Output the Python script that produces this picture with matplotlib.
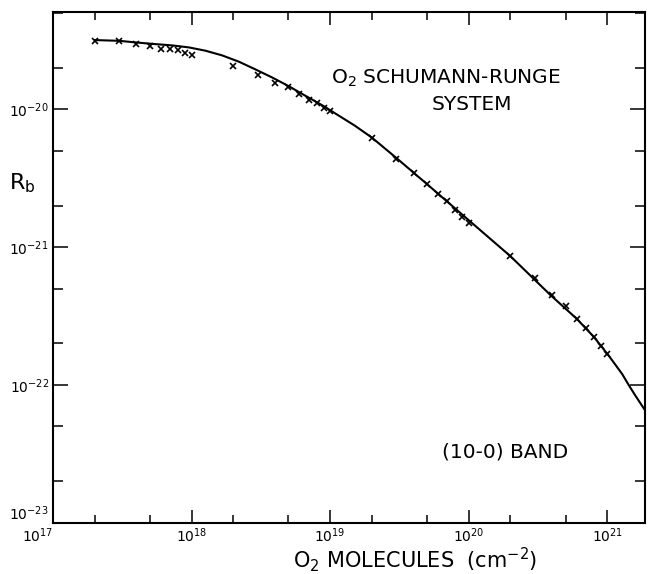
import matplotlib
matplotlib.use("Agg")
import matplotlib.pyplot as plt
from matplotlib.ticker import LogLocator, NullFormatter, FixedFormatter, FixedLocator

plt.rcParams['font.family'] = ['DejaVu Sans']
plt.rcParams['mathtext.default'] = 'regular'

# measured points (O2 column, cm^-2) and R_b
x_points = [2e17, 3e17, 4e17, 5e17, 6e17, 7e17, 8e17, 9e17, 1e18,
            2e18, 3e18, 4e18, 5e18, 6e18, 7e18, 8e18, 9e18, 1e19,
            2e19, 3e19, 4e19, 5e19, 6e19, 7e19, 8e19, 9e19, 1e20,
            2e20, 3e20, 4e20, 5e20, 6e20, 7e20, 8e20, 9e20, 1e21]
y_points = [3.13e-20, 3.15e-20, 2.97e-20, 2.87e-20, 2.77e-20, 2.74e-20, 2.68e-20, 2.59e-20, 2.48e-20,
            2.07e-20, 1.77e-20, 1.56e-20, 1.46e-20, 1.29e-20, 1.18e-20, 1.12e-20, 1.03e-20, 9.8e-21,
            6.25e-21, 4.4e-21, 3.43e-21, 2.87e-21, 2.42e-21, 2.15e-21, 1.86e-21, 1.66e-21, 1.49e-21,
            8.6e-22, 5.98e-22, 4.48e-22, 3.73e-22, 2.99e-22, 2.57e-22, 2.23e-22, 1.91e-22, 1.67e-22]

# fitted curve
x_curve = [2e17, 3e17, 4.2e17, 5.5e17, 7.2e17, 9.6e17, 1.26e18, 1.66e18, 2.2e18, 2.9e18,
           3.8e18, 5e18, 6.6e18, 8.8e18, 1.09e19, 1.5e19, 2e19, 3e19, 5e19, 1e20, 2e20,
           3.9e20, 6e20, 8e20, 1.02e21, 1.28e21, 1.43e21, 1.59e21, 1.88e21]
y_curve = [3.19e-20, 3.15e-20, 3.05e-20, 2.98e-20, 2.92e-20, 2.82e-20, 2.67e-20, 2.47e-20, 2.22e-20, 1.95e-20,
           1.71e-20, 1.48e-20, 1.26e-20, 1.07e-20, 9.35e-21, 7.65e-21, 6.25e-21, 4.45e-21, 2.87e-21, 1.57e-21, 8.6e-22,
           4.48e-22, 3.03e-22, 2.23e-22, 1.64e-22, 1.2e-22, 9.95e-23, 8.4e-23, 6.5e-23]

x_major = [1e17, 1e18, 1e19, 1e20, 1e21]
x_major_labels = [r'$10^{17}$', r'$10^{18}$', r'$10^{19}$', r'$10^{20}$', r'$10^{21}$']
y_major = [1e-23, 1e-22, 1e-21, 1e-20]
y_major_labels = [r'$10^{-23}$', r'$10^{-22}$', r'$10^{-21}$', r'$10^{-20}$']

fig = plt.figure(figsize=(6.49, 5.74), dpi=100)
ax = fig.add_axes([53/649, 1 - 522.7/574, (645 - 53)/649, (522.7 - 12)/574])
ax.set_xscale('log')
ax.set_yscale('log')
ax.set_xlim(1e17, 1.87e21)
ax.set_ylim(1e-23, 5.1e-20)

ax.plot(x_curve, y_curve, color='black', lw=1.5, solid_capstyle='round', solid_joinstyle='round')
ax.plot(x_points, y_points, linestyle='none', marker='x', color='black', ms=5, mew=1.2)

ax.xaxis.set_major_locator(FixedLocator(x_major))
ax.xaxis.set_major_formatter(FixedFormatter(x_major_labels))
ax.yaxis.set_major_locator(FixedLocator(y_major))
ax.yaxis.set_major_formatter(FixedFormatter(y_major_labels))
ax.xaxis.set_minor_locator(LogLocator(base=10, subs=(2.0, 5.0)))
ax.yaxis.set_minor_locator(LogLocator(base=10, subs=(2.0, 5.0)))
ax.xaxis.set_minor_formatter(NullFormatter())
ax.yaxis.set_minor_formatter(NullFormatter())

ax.tick_params(axis='x', which='major', direction='in', length=9.5, width=1.1, top=True, labelsize=10, pad=3)
ax.tick_params(axis='x', which='minor', direction='in', length=6, width=1.1, top=True)
ax.tick_params(axis='y', which='major', direction='in', length=11, width=1.1, right=True, labelsize=10, pad=3)
ax.tick_params(axis='y', which='minor', direction='in', length=7.5, width=1.1, right=True)
for s in ax.spines.values():
    s.set_linewidth(1.5)

fig.canvas.draw()
# shift the corner labels so they don't collide
xl = ax.get_xticklabels()
xl[0].set_horizontalalignment('right')
yl = ax.get_yticklabels()
yl[0].set_verticalalignment('bottom')

fig.text(446/649, 1 - 78.5/574, r'O$_2$ SCHUMANN-RUNGE', fontsize=14.5, ha='center', va='center')
fig.text(472/649, 1 - 104.5/574, 'SYSTEM', fontsize=14.5, ha='center', va='center')
fig.text(505/649, 1 - 452/574, '(10-0) BAND', fontsize=14.5, ha='center', va='center')
fig.text(415/649, 1 - 568/574, r'O$_2$ MOLECULES  (cm$^{-2}$)', fontsize=15, ha='center', va='baseline')
fig.text(22/649, 1 - 183/574, r'R$_b$', fontsize=16, ha='center', va='center')

fig.savefig('out.png', dpi=100)
